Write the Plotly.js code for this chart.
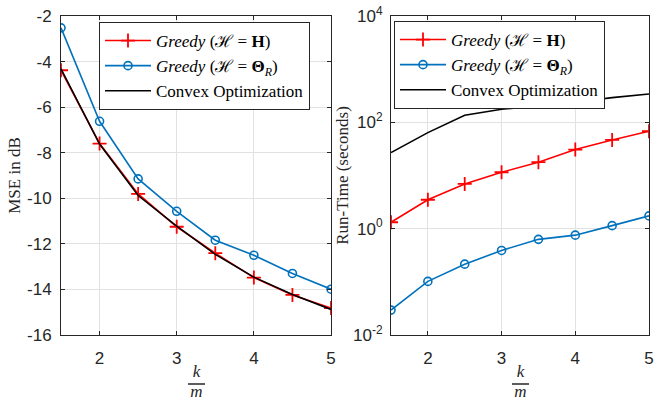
<!DOCTYPE html>
<html>
<head>
<meta charset="utf-8">
<script src="https://cdn.plot.ly/plotly-3.0.1.min.js"></script>
<style>html,body{margin:0;padding:0;background:#fff;}#plot{width:657px;height:401px;}</style>
</head>
<body>
<div id="plot"></div>
<script>
// ratio k/m
const kOverM = [1.5, 2, 2.5, 3, 3.5, 4, 4.5, 5];
// MSE in dB (left panel)
const mseGreedyH = [-4.38, -7.6, -9.81, -11.25, -12.41, -13.48, -14.24, -14.82];
const mseGreedyTheta = [-2.52, -6.62, -9.15, -10.57, -11.84, -12.5, -13.3, -13.99];
const mseConvex = [-4.32, -7.62, -9.88, -11.22, -12.46, -13.46, -14.22, -14.88];
// Run-time in seconds (right panel)
const timeGreedyH = [1.32, 3.5, 6.95, 11.5, 17.8, 30.7, 46.6, 68];
const timeGreedyTheta = [0.0294, 0.102, 0.215, 0.389, 0.63, 0.755, 1.14, 1.74];
const timeConvex = [27, 64, 136, 176, 203, 238, 292, 342];
// labels
const nameH = '<i>Greedy</i> (ℋ = <b>H</b>)';
const nameTheta = '<i>Greedy</i> (ℋ = <b>Θ</b><sub><i>R</i></sub>)';
const nameConvex = 'Convex Optimization';
const xTicks = [2, 3, 4, 5];
const mseTicks = [-16, -14, -12, -10, -8, -6, -4, -2];
const mseTickText = ['-16', '-14', '-12', '-10', '-8', '-6', '-4', '-2'];
const timeTickVals = [0.01, 1, 100, 10000];
const timeTickText = ['10<sup>-2</sup>', '10<sup>0</sup>', '10<sup>2</sup>', '10<sup>4</sup>'];
const fracLabels = ['<i>k</i>', '<i>m</i>', '<i>k</i>', '<i>m</i>'];

const RED = '#ff0000', BLUE = '#0072bd', BLACK = '#000000';
const SERIF = 'Liberation Serif';
const SANS = 'Liberation Sans';
const H = 401, W = 657;

function mk(x, y, name, color, kind, xa, ya, lg) {
  const t = {x: x, y: y, name: name, xaxis: xa, yaxis: ya, legend: lg, type: 'scatter',
    line: {color: color, width: 1.6}};
  if (kind === 'plus') {
    t.mode = 'lines+markers';
    t.marker = {symbol: 'cross-thin', size: 10, color: color, line: {color: color, width: 1.8}};
  } else if (kind === 'circle') {
    t.mode = 'lines+markers';
    t.marker = {symbol: 'circle-open', size: 8, color: color, line: {color: color, width: 1.6}};
  } else {
    t.mode = 'lines';
  }
  return t;
}

const data = [
  mk(kOverM, mseGreedyH, nameH, RED, 'plus', 'x', 'y', 'legend'),
  mk(kOverM, mseGreedyTheta, nameTheta, BLUE, 'circle', 'x', 'y', 'legend'),
  mk(kOverM, mseConvex, nameConvex, BLACK, 'line', 'x', 'y', 'legend'),
  mk(kOverM, timeGreedyH, nameH, RED, 'plus', 'x2', 'y2', 'legend2'),
  mk(kOverM, timeGreedyTheta, nameTheta, BLUE, 'circle', 'x2', 'y2', 'legend2'),
  mk(kOverM, timeConvex, nameConvex, BLACK, 'line', 'x2', 'y2', 'legend2'),
  // x-axis fraction labels (k over m), placed in a pixel-space overlay
  {type: 'scatter', mode: 'text', xaxis: 'x3', yaxis: 'y3', showlegend: false, hoverinfo: 'skip',
   x: [196.5, 196.5, 520.5, 520.5], y: [372.5, 392.5, 372.5, 392.5], text: fracLabels,
   textposition: 'middle center', textfont: {family: SERIF, size: 17, color: '#262626'}}
];

const axCommon = {
  showline: true, linecolor: '#262626', linewidth: 1, mirror: 'ticks',
  ticks: 'inside', ticklen: 4, tickcolor: '#262626',
  showgrid: true, gridcolor: '#e2e2e2', gridwidth: 1, zeroline: false,
  tickfont: {family: SANS, size: 17, color: '#262626'}
};
const legCommon = {
  bgcolor: '#ffffff', bordercolor: '#262626', borderwidth: 1,
  font: {family: SERIF, size: 17, color: '#000'},
  xanchor: 'left', yanchor: 'top', itemwidth: 46, tracegroupgap: 0,
  traceorder: 'normal', itemclick: false
};

const layout = {
  width: W, height: H, margin: {l: 0, r: 0, t: 0, b: 0},
  paper_bgcolor: '#fff', plot_bgcolor: 'rgba(0,0,0,0)', showlegend: true,
  xaxis: Object.assign({}, axCommon, {domain: [61/W, 331/W], range: [1.5, 5], tickvals: xTicks, anchor: 'y', ticklabelstandoff: 8}),
  yaxis: Object.assign({}, axCommon, {domain: [1 - 335/H, 1 - 16/H], range: [-16, -2], tickvals: mseTicks, ticktext: mseTickText, anchor: 'x', ticklabelstandoff: 5,
    title: {text: 'MSE in dB', standoff: 2, font: {family: SERIF, size: 17, color: '#262626'}}}),
  xaxis2: Object.assign({}, axCommon, {domain: [391/W, 649/W], range: [1.5, 5], tickvals: xTicks, anchor: 'y2', ticklabelstandoff: 8}),
  yaxis2: Object.assign({}, axCommon, {domain: [1 - 335/H, 1 - 16/H], type: 'log', range: [-2, 4], tickvals: timeTickVals, ticktext: timeTickText, anchor: 'x2', ticklabelstandoff: 4,
    title: {text: 'Run-Time (seconds)', standoff: 0, font: {family: SERIF, size: 17, color: '#262626'}}}),
  xaxis3: {domain: [0, 1], range: [0, W], visible: false, fixedrange: true, anchor: 'y3', showgrid: false, zeroline: false},
  yaxis3: {domain: [0, 1], range: [H, 0], visible: false, fixedrange: true, anchor: 'x3', showgrid: false, zeroline: false},
  legend: Object.assign({}, legCommon, {x: 99/W, y: 1 - 22/H}),
  legend2: Object.assign({}, legCommon, {x: 394/W, y: 1 - 21/H}),
  shapes: [
    {type: 'line', xref: 'paper', yref: 'paper', x0: 188/W, x1: 205/W, y0: 1 - 384/H, y1: 1 - 384/H, line: {color: '#262626', width: 1.5}},
    {type: 'line', xref: 'paper', yref: 'paper', x0: 512/W, x1: 529/W, y0: 1 - 384/H, y1: 1 - 384/H, line: {color: '#262626', width: 1.5}}
  ]
};

Plotly.newPlot('plot', data, layout, {staticPlot: true, displayModeBar: false});
</script>
</body>
</html>
